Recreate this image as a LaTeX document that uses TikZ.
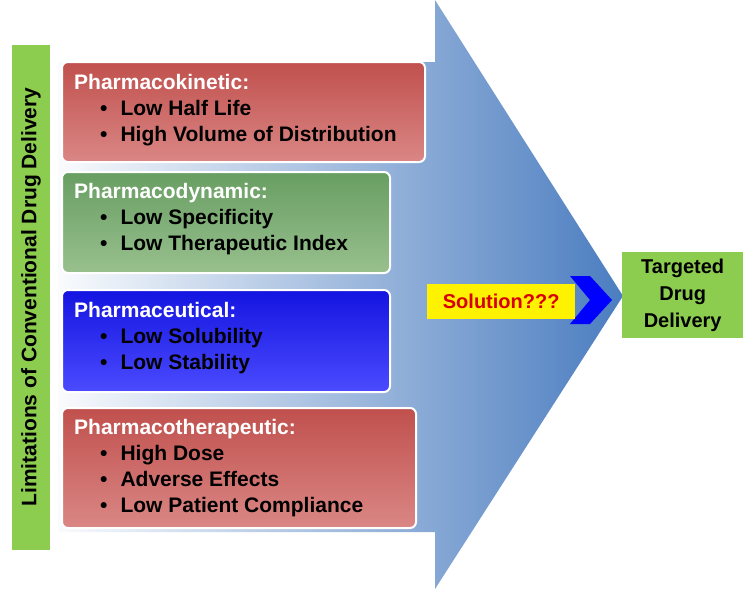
\documentclass[tikz,border=0pt]{standalone}
\usepackage{fontspec}
\setmainfont{Liberation Sans}
\definecolor{redA}{RGB}{192,80,77}
\definecolor{redB}{RGB}{218,135,133}
\definecolor{grnA}{RGB}{104,158,98}
\definecolor{grnB}{RGB}{152,192,142}
\definecolor{bluA}{RGB}{20,20,225}
\definecolor{bluB}{RGB}{75,75,255}
\definecolor{arrB}{RGB}{75,125,192}
\definecolor{lime}{RGB}{140,205,80}
\newcommand{\itm}[1]{\\\hspace*{26pt}\textcolor{black}{\textbullet\hspace{13pt}#1}}
\begin{document}
\begin{tikzpicture}[x=1pt,y=-1pt,
  box/.style={draw=white,line width=2pt,rounded corners=6pt,anchor=north west,inner sep=0pt},
  txt/.style={anchor=north west,align=left,font=\bfseries\fontsize{21}{26}\selectfont,text=white,inner sep=0pt}]
\useasboundingbox (0,0) rectangle (750,589);
\fill[white] (0,0) rectangle (750,589);
% big arrow
\shade[left color=white,right color=arrB,shading angle=90]
  (40,62) -- (435,62) -- (435,0) -- (623,296) -- (435,589) -- (435,532) -- (40,532) -- cycle;
\fill[white] (0,0) rectangle (58,589);
% left label
\node[fill=lime,minimum width=38pt,minimum height=505pt,inner sep=0pt] (lab) at (31,297)
  {\rotatebox{90}{\bfseries\fontsize{21}{22}\selectfont Limitations of Conventional Drug Delivery}};
% boxes
\shade[box,top color=redA,bottom color=redB] (62,62) rectangle (425,162);
\shade[box,top color=grnA,bottom color=grnB] (62,172) rectangle (390,273);
\shade[box,top color=bluA,bottom color=bluB] (62,290) rectangle (390,392);
\shade[box,top color=redA,bottom color=redB] (62,408) rectangle (416,528);
\node[txt] (b1) at (74,74) {Pharmacokinetic:\itm{Low Half Life}\itm{High Volume of Distribution}};
\node[txt] (b2) at (74,183) {Pharmacodynamic:\itm{Low Specificity}\itm{Low Therapeutic Index}};
\node[txt] (b3) at (74,302) {Pharmaceutical:\itm{Low Solubility}\itm{Low Stability}};
\node[txt] (b4) at (74,419) {Pharmacotherapeutic:\itm{High Dose}\itm{Adverse Effects}\itm{Low Patient Compliance}};
% solution
\fill[blue] (570,276) -- (590,276) -- (612,300) -- (590,324) -- (570,324) -- (590,300) -- cycle;
\node[fill=yellow,text=red!85!black,font=\bfseries\fontsize{20}{22}\selectfont,
  minimum width=148pt,minimum height=35pt,inner sep=0pt,anchor=north west] (sol) at (427,284) {Solution???};
\node[fill=lime,font=\bfseries\fontsize{20}{27}\selectfont,align=center,
  minimum width=121pt,minimum height=86pt,inner sep=0pt,anchor=north west] (tdd) at (622,252)
  {Targeted\\Drug\\Delivery};
\end{tikzpicture}
\end{document}
